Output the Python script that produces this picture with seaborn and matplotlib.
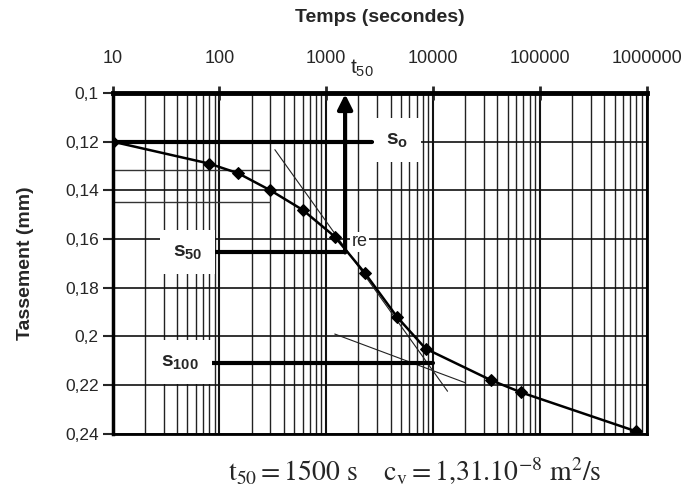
import numpy as np
import pandas as pd
import matplotlib
matplotlib.use("Agg")
import matplotlib.pyplot as plt
import matplotlib.ticker as tkr
import seaborn as sns

# Oedometer consolidation curve (Casagrande method)
temps = [10, 80, 150, 300, 600, 1200, 2300, 4600, 8500, 35000, 67000, 800000]
tassement = [0.120, 0.129, 0.133, 0.140, 0.148, 0.159, 0.174, 0.192, 0.205, 0.218, 0.223, 0.239]

x_ticks = [10, 100, 1000, 10000, 100000, 1000000]
x_labels = ["10", "100", "1000", "10000", "100000", "1000000"]
y_ticks = [0.10, 0.12, 0.14, 0.16, 0.18, 0.20, 0.22, 0.24]
y_labels = ["0,1", "0,12", "0,14", "0,16", "0,18", "0,2", "0,22", "0,24"]

s0 = 0.120
s100 = 0.211
s50 = (s0 + s100) / 2
t50 = 1500
t_s0_end = 2650
t_s100_end = 10000
t_label_start = 60

# construction tangents (time, settlement)
tangent_steep_t = [330, 13650]
tangent_steep_s = [0.1233, 0.2225]
tangent_tail_t = [1200, 20000]
tangent_tail_s = [0.1990, 0.2190]
guide_levels = [0.1316, 0.1449]
guide_t = [10, 300]


def main():
    sns.set_style("white")
    plt.rcParams['font.family'] = ['Liberation Sans', 'DejaVu Sans']
    plt.rcParams['mathtext.fontset'] = 'stix'

    df = pd.DataFrame({"Temps": temps, "Tassement": tassement})

    fig = plt.figure(figsize=(6.91, 4.97), dpi=100)
    ax = fig.add_axes([0.163, 0.127, 0.773, 0.686])

    ax.set_xscale("log")
    ax.set_xlim(10, 1e6)
    ax.set_ylim(0.24, 0.10)

    # grid
    ax.xaxis.set_minor_locator(tkr.LogLocator(base=10, subs=np.arange(2, 10)))
    ax.xaxis.set_minor_formatter(tkr.NullFormatter())
    ax.grid(which='major', axis='x', color='#111111', lw=1.5)
    ax.grid(which='minor', axis='x', color='#222222', lw=1.0)
    ax.grid(which='major', axis='y', color='#111111', lw=1.2)
    ax.set_axisbelow(True)

    for lvl in guide_levels:
        ax.plot(guide_t, [lvl, lvl], color='#333333', lw=1.0, zorder=1)

    # thin tangents
    ax.plot(tangent_steep_t, tangent_steep_s, color='#222222', lw=0.8, zorder=2)
    ax.plot(tangent_tail_t, tangent_tail_s, color='#222222', lw=0.8, zorder=2)

    # settlement curve
    sns.lineplot(data=df, x="Temps", y="Tassement", ax=ax, color='black', lw=1.8,
                 marker='D', markersize=6, markeredgecolor='black', zorder=5)

    # s0, s50, s100 construction
    ax.plot([10, t_s0_end], [s0, s0], color='black', lw=3, zorder=4)
    ax.plot([t_label_start, t50], [s50, s50], color='black', lw=3, zorder=4)
    ax.plot([t_label_start, t_s100_end], [s100, s100], color='black', lw=3, zorder=4)
    ax.annotate("", xy=(t50, 0.1005), xytext=(t50, s50),
                arrowprops=dict(arrowstyle='-|>', lw=3, color='black',
                                mutation_scale=22, shrinkA=0, shrinkB=0), zorder=6)

    box = dict(facecolor='white', edgecolor='none', pad=9)
    lab = dict(fontsize=15, fontweight='bold', va='center', ha='center', zorder=7)
    ax.text(4600, s0 - 0.0005, r"$\mathregular{s_o}$", bbox=box, **lab)
    ax.text(50, s50, r"$\mathregular{s_{50}}$", bbox=box, **lab)
    ax.text(43, s100 - 0.0005, r"$\mathregular{s_{100}}$", bbox=box, **lab)
    ax.text(1720, 0.1612, "re", fontsize=13, va='center', ha='left', zorder=7,
            bbox=dict(facecolor='white', edgecolor='none', pad=1))
    ax.text(1650, 1.072, r"$\mathregular{t_{50}}$", transform=ax.get_xaxis_transform(),
            fontsize=15, ha='left', va='center', clip_on=False)

    # axes
    ax.xaxis.tick_top()
    ax.xaxis.set_label_position('top')
    ax.set_xticks(x_ticks)
    ax.set_xticklabels(x_labels)
    ax.set_yticks(y_ticks)
    ax.set_yticklabels(y_labels)
    ax.tick_params(axis='x', which='major', direction='inout', length=10, width=2,
                   pad=14, labelsize=13, top=True, bottom=False)
    ax.tick_params(axis='x', which='minor', top=False, bottom=False)
    ax.tick_params(axis='y', which='major', direction='out', length=7, width=1.5,
                   pad=3, labelsize=12.5, left=True)
    ax.set_xlabel("Temps (secondes)", fontsize=14, fontweight='bold', labelpad=20)
    ax.set_ylabel("Tassement (mm)", fontsize=14, fontweight='bold', labelpad=22)

    for side, lw in [('top', 3.5), ('left', 2.5), ('bottom', 2), ('right', 2)]:
        ax.spines[side].set_visible(True)
        ax.spines[side].set_color('black')
        ax.spines[side].set_linewidth(lw)

    fig.text(0.600, 0.052,
             r"$\mathrm{t_{50} = 1500\ s\quad\ c_v = 1{,}31.10^{-8}\ m^2/s}$",
             fontsize=20, ha='center', va='center')

    plt.savefig("out.png", dpi=100)
    plt.close()


if __name__ == "__main__":
    main()
